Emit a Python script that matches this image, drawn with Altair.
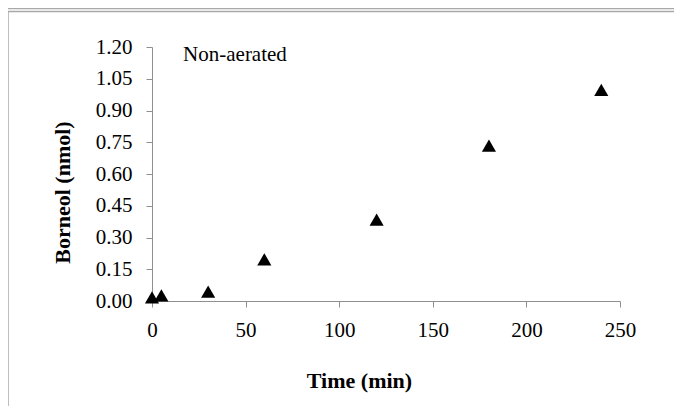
import altair as alt
import pandas as pd

# ---- data ----
time_min = [0, 5, 30, 60, 120, 180, 240]
borneol_nmol = [0.017, 0.027, 0.044, 0.197, 0.385, 0.734, 0.998]
x_ticks = [0, 50, 100, 150, 200, 250]
y_ticks = [0.0, 0.15, 0.30, 0.45, 0.60, 0.75, 0.90, 1.05, 1.20]
annotation = ["Non-aerated"]
annotation_x = [16.6]
annotation_y = [1.134]

df = pd.DataFrame({"t": time_min, "b": borneol_nmol})
ann = pd.DataFrame({"label": annotation, "t": annotation_x, "b": annotation_y})
one = pd.DataFrame({"k": [0]})

FONT = "Liberation Serif"
W, H = 468, 254
GRAY = "#8f8f8f"

x_scale = alt.Scale(domain=[0, 250], nice=False, zero=False)
y_scale = alt.Scale(domain=[0, 1.2], nice=False)

x_axis = alt.Axis(values=x_ticks, title="Time (min)", labelPadding=12,
                  labelOverlap=False, labelFlush=False,
                  titleX=207, titleY=86, titleBaseline="alphabetic")
y_axis = alt.Axis(values=y_ticks, format=".2f", title="Borneol (nmol)",
                  labelPadding=14, labelOverlap=False, labelFlush=False,
                  titleX=-90, titleY=145, titleBaseline="middle")

base = alt.Chart(df).encode(
    x=alt.X("t:Q", scale=x_scale, axis=x_axis),
    y=alt.Y("b:Q", scale=y_scale, axis=y_axis),
)

points = base.mark_point(
    shape="triangle-up", filled=True, color="black", size=200, opacity=1
)

text = alt.Chart(ann).mark_text(
    font=FONT, fontSize=21, color="black", align="left", baseline="alphabetic"
).encode(
    x=alt.X("t:Q", scale=x_scale, axis=x_axis),
    y=alt.Y("b:Q", scale=y_scale, axis=y_axis),
    text="label:N",
)

frame_color = "#a8a8a8"
top1 = alt.Chart(one).mark_rule(color=frame_color, strokeWidth=1.5).encode(
    x=alt.value(-144), x2=alt.value(522), y=alt.value(-38.5))
top2 = alt.Chart(one).mark_rule(color=frame_color, strokeWidth=1.5).encode(
    x=alt.value(-144), x2=alt.value(522), y=alt.value(-35.5))
left = alt.Chart(one).mark_rule(color=frame_color, strokeWidth=1.5).encode(
    x=alt.value(-144), y=alt.value(-36), y2=alt.value(360))

chart = alt.layer(points, text, top1, top2, left).properties(
    width=W, height=H,
    autosize=alt.AutoSizeParams(type="none"),
    padding={"left": 144, "top": 39, "right": 54, "bottom": 105},
).configure_view(strokeWidth=0).configure_axis(
    grid=False, labelOverlap=False,
    domainColor=GRAY, tickColor=GRAY, tickSize=6, domainWidth=1,
    labelFont=FONT, labelFontSize=21, labelColor="black",
    titleFont=FONT, titleFontSize=22, titleFontWeight="bold", titleColor="black",
)

chart.save("out.html", embed_options={"renderer": "svg", "actions": False})
